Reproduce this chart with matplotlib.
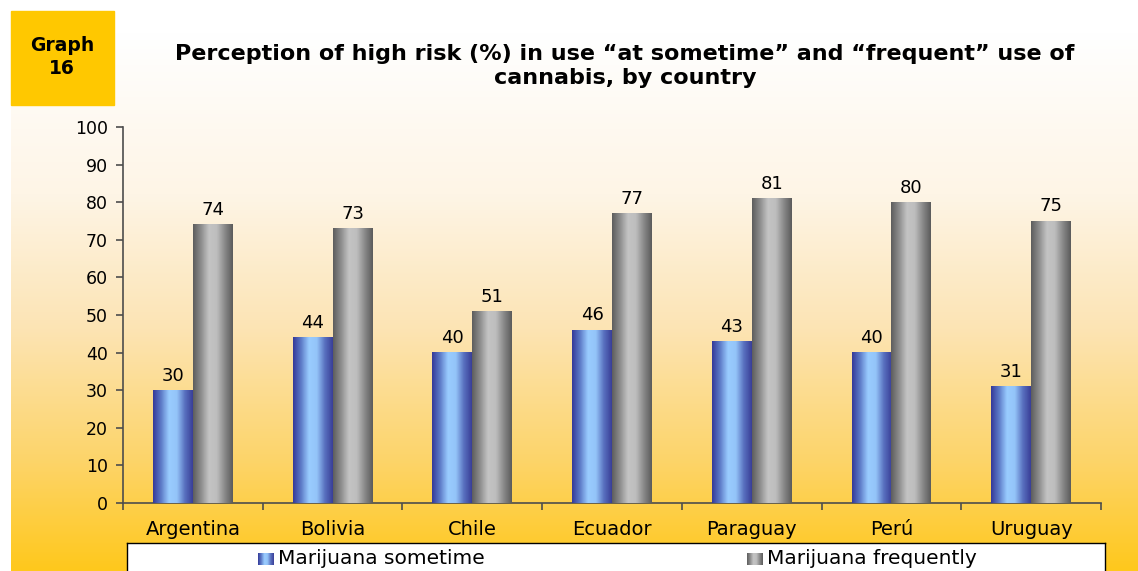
import numpy as np
import matplotlib
matplotlib.use("Agg")
from matplotlib import pyplot as plt
from matplotlib.colors import LinearSegmentedColormap
from matplotlib.patches import Rectangle

countries = ["Argentina", "Bolivia", "Chile", "Ecuador", "Paraguay", "Perú", "Uruguay"]
sometime = [30, 44, 40, 46, 43, 40, 31]
frequently = [74, 73, 51, 77, 81, 80, 75]
series_names = ["Marijuana sometime", "Marijuana frequently"]
title = "Perception of high risk (%) in use \u201cat sometime\u201d and \u201cfrequent\u201d use of\ncannabis, by country"

# the original text is wide, so a wide face is used
plt.rcParams["font.family"] = ["DejaVu Sans"]

W, H = 1138, 571
fig = plt.figure(figsize=(W / 100, H / 100), dpi=100)

# cylinder-like horizontal gradients for the bars
blue_cmap = LinearSegmentedColormap.from_list(
    "blue", ["#353B9A", "#5E7CC8", "#99CCFF", "#94C4F8", "#5A72C0", "#3A3F98"])
gray_cmap = LinearSegmentedColormap.from_list(
    "gray", ["#5E5E5E", "#8E8E8E", "#C4C4C4", "#BDBDBD", "#8A8A8A", "#5C5C5C"])
bg_cmap = LinearSegmentedColormap.from_list(
    "bg", [(0, "#FFFFFF"), (0.3, "#FEF5E6"), (0.55, "#FCE4B4"),
           (0.8, "#FDD468"), (1.0, "#FFC81C")])


def px(x0, y0, x1, y1):
    # pixel box (top-left origin) -> figure fraction rect
    return [x0 / W, 1 - y1 / H, (x1 - x0) / W, (y1 - y0) / H]


# background panel
bg = fig.add_axes(px(11, 32, W, H), zorder=-2)
bg.imshow(np.linspace(0, 1, 256).reshape(-1, 1), aspect="auto", cmap=bg_cmap,
          extent=(0, 1, 0, 1), origin="upper")
bg.axis("off")

# "Graph 16" box
fig.patches.append(Rectangle((11 / W, 1 - 105 / H), 103 / W, 94 / H,
                             transform=fig.transFigure, color="#FFC800", zorder=-1))
fig.text(62 / W, 1 - 57 / H, "Graph\n16", ha="center", va="center",
         fontsize=13.5, fontweight="bold", linespacing=1.3)

fig.text(625 / W, 1 - 66 / H, title, ha="center", va="center",
         fontsize=16, fontweight="bold", linespacing=1.3)


def gradient_rect(ax, x0, x1, y0, y1, cmap, z=3):
    ax.imshow(np.linspace(0, 1, 64).reshape(1, -1), cmap=cmap, aspect="auto",
              extent=(x0, x1, y0, y1), zorder=z, interpolation="bilinear")


ax = fig.add_axes(px(123, 127, 1101, 503))
ax.set_facecolor("none")
x = np.arange(len(countries))
bw = 40 / 140
bars1 = ax.bar(x - bw / 2, sometime, bw, color="none")
bars2 = ax.bar(x + bw / 2, frequently, bw, color="none")
for bars, cmap in [(bars1, blue_cmap), (bars2, gray_cmap)]:
    for b in bars:
        gradient_rect(ax, b.get_x(), b.get_x() + b.get_width(), 0, b.get_height(), cmap)
        ax.annotate(f"{b.get_height():.0f}", (b.get_x() + b.get_width() / 2, b.get_height()),
                    xytext=(0, 4), textcoords="offset points", ha="center", va="bottom",
                    fontsize=13)

ax.set_xlim(-0.5, len(countries) - 0.5)
ax.set_ylim(0, 100)
ax.set_yticks(range(0, 101, 10))
ax.set_xticks(x)
ax.set_xticklabels(countries, fontsize=14)
ax.set_xticks(np.arange(-0.5, len(countries)), minor=True)
ax.tick_params(axis="x", which="major", length=0, pad=12)
ax.tick_params(axis="x", which="minor", length=5, width=1.2, color="#4D4D4D")
ax.tick_params(axis="y", length=5, width=1.2, color="#4D4D4D", labelsize=12.5, pad=6)
for s in ["top", "right"]:
    ax.spines[s].set_visible(False)
for s in ["left", "bottom"]:
    ax.spines[s].set_color("#4D4D4D")
    ax.spines[s].set_linewidth(1.2)

# legend box (runs off the bottom edge)
lg = fig.add_axes(px(127, 543, 1105, 580), zorder=2)
lg.set_facecolor("white")
for s in lg.spines.values():
    s.set_color("black")
    s.set_linewidth(1)
lg.set_xticks([])
lg.set_yticks([])
for name, cmap, kx in [(series_names[0], blue_cmap, 131), (series_names[1], gray_cmap, 620)]:
    gradient_rect(lg, kx, kx + 16, 22, 10, cmap)
    lg.text(kx + 20, 16, name, ha="left", va="center", fontsize=14.5)
lg.set_xlim(0, 978)
lg.set_ylim(37, 0)

fig.savefig("out.png", dpi=100)
